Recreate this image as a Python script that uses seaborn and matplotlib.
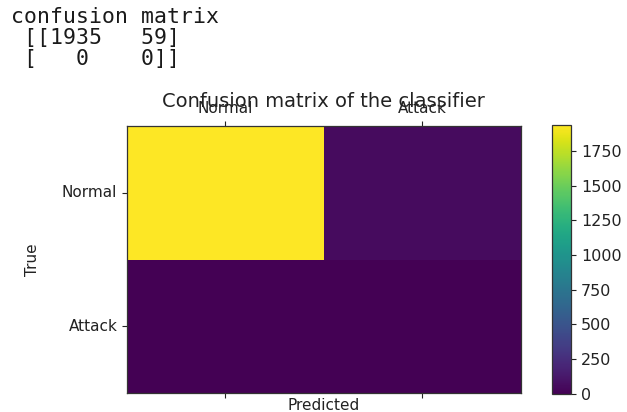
import numpy as np
import matplotlib
matplotlib.use("Agg")
import matplotlib.pyplot as plt
import seaborn as sns

# --- Data ---
labels = ["Normal", "Attack"]
row_normal = [1935, 59]
row_attack = [0, 0]
cm = np.array([row_normal, row_attack])

# --- Figure ---
fig = plt.figure(figsize=(6.27, 4.12), dpi=100)

# printed output above the plot
printed = "confusion matrix\n [[1935   59]\n [   0    0]]"
fig.text(0.018, 0.982, printed, family="DejaVu Sans Mono", fontsize=15.5,
         va="top", ha="left", color="#1a1a1a", linespacing=1.05)

ax = fig.add_axes([0.2026, 0.046, 0.628, 0.648])
cax = fig.add_axes([0.881, 0.044, 0.030, 0.652])

sns.heatmap(cm, cmap="viridis", ax=ax, cbar_ax=cax,
            xticklabels=labels, yticklabels=labels, square=False)

# put the frame back like matshow
for sp in ax.spines.values():
    sp.set_visible(True)
    sp.set_color("#333333")
    sp.set_linewidth(0.9)
cbar = ax.collections[0].colorbar
cbar.outline.set_linewidth(0.9)
cbar.outline.set_edgecolor("#333333")

ax.tick_params(top=True, labeltop=True, bottom=True, labelbottom=False,
               left=True, labelsize=11, colors="#222222")
ax.set_yticklabels(labels, rotation=0)
ax.set_xticklabels(labels, rotation=0)
cax.tick_params(labelsize=11.5, colors="#222222")

ax.set_title("Confusion matrix of the classifier", fontsize=14, y=1.0, pad=14,
             color="#222222")
ax.set_xlabel("Predicted", fontsize=11, labelpad=0, color="#222222")
ax.set_ylabel("True", fontsize=11, color="#222222")
ax.yaxis.set_label_coords(-0.222, 0.5)

fig.savefig("out.png", dpi=100)
